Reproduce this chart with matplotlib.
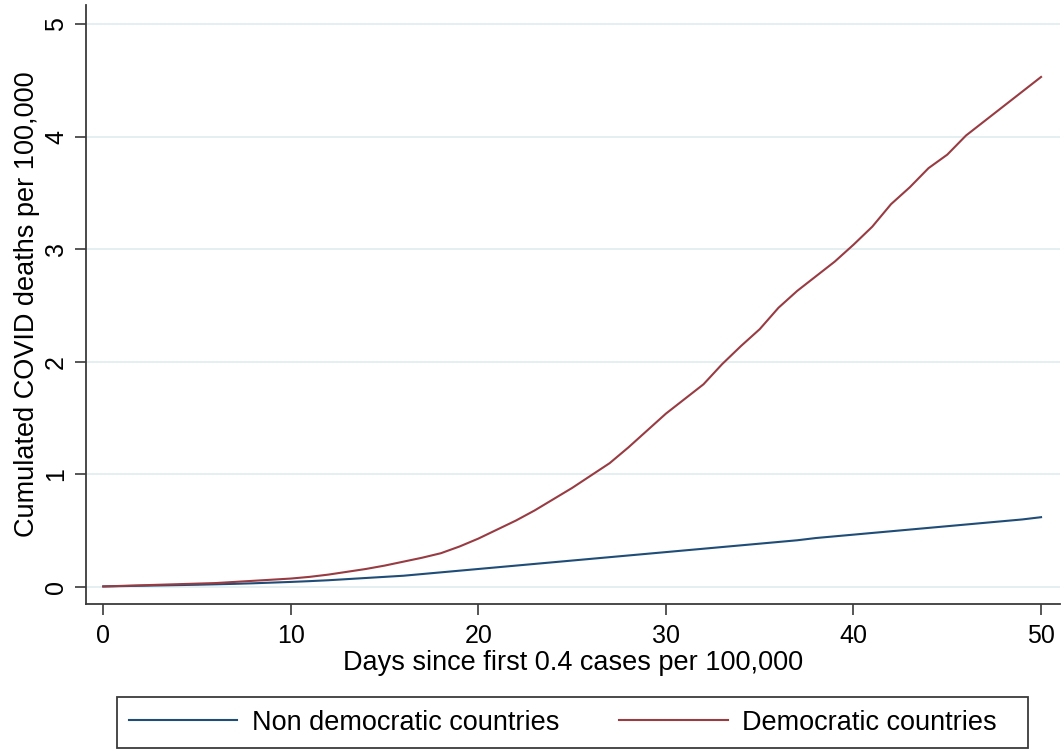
import matplotlib
matplotlib.use("Agg")
import matplotlib.pyplot as plt
from matplotlib.patches import Rectangle

plt.rcParams['font.family'] = ['Liberation Sans', 'DejaVu Sans']

# days since first 0.4 cases per 100,000
days = list(range(0, 51))

# cumulated deaths per 100,000
non_democratic = [0.005, 0.008, 0.011, 0.014, 0.017, 0.02, 0.024, 0.028, 0.033, 0.039,
                  0.045, 0.052, 0.06, 0.07, 0.08, 0.09, 0.10, 0.115, 0.13, 0.145,
                  0.16, 0.175, 0.19, 0.205, 0.22, 0.235, 0.25, 0.265, 0.28, 0.295,
                  0.31, 0.325, 0.34, 0.355, 0.37, 0.385, 0.40, 0.415, 0.435, 0.45,
                  0.465, 0.48, 0.495, 0.51, 0.525, 0.54, 0.555, 0.57, 0.585, 0.60,
                  0.62]
democratic = [0.005, 0.01, 0.015, 0.02, 0.025, 0.03, 0.035, 0.045, 0.055, 0.065,
              0.075, 0.09, 0.11, 0.135, 0.16, 0.19, 0.225, 0.26, 0.30, 0.36,
              0.43, 0.51, 0.59, 0.68, 0.78, 0.88, 0.99, 1.10, 1.24, 1.39,
              1.54, 1.67, 1.80, 1.98, 2.14, 2.29, 2.48, 2.63, 2.76, 2.89,
              3.04, 3.20, 3.40, 3.55, 3.72, 3.84, 4.01, 4.14, 4.27, 4.40,
              4.53]

labels = ["Non democratic countries", "Democratic countries"]
xticks = [0, 10, 20, 30, 40, 50]
yticks = [0, 1, 2, 3, 4, 5]

navy = "#1f4d77"
maroon = "#983b42"
spine_col = "#3a3a3a"

W, H = 1064, 749
fig = plt.figure(figsize=(W / 100, H / 100), dpi=100)
ax = fig.add_axes([86 / W, 145 / H, 974 / W, 599 / H])

ax.plot(days, non_democratic, color=navy, lw=1.5, label=labels[0])
ax.plot(days, democratic, color=maroon, lw=1.5, label=labels[1])

ax.set_xlim(-0.92, 51.01)
ax.set_ylim(-0.151, 5.169)
ax.set_xticks(xticks)
ax.set_yticks(yticks)
ax.grid(axis="y", color="#e0ebee", lw=1.2)
ax.set_axisbelow(True)

for s in ["top", "right"]:
    ax.spines[s].set_visible(False)
for s in ["left", "bottom"]:
    ax.spines[s].set_color(spine_col)
    ax.spines[s].set_linewidth(1.3)

ax.tick_params(axis="both", direction="out", length=8, width=1.2,
               color=spine_col, labelsize=18)
ax.tick_params(axis="x", pad=6.5)
ax.tick_params(axis="y", pad=5)
for t in ax.get_yticklabels():
    t.set_rotation(90)
    t.set_va("center")

ax.set_xlabel("Days since first 0.4 cases per 100,000", fontsize=19.5, labelpad=1)
ax.set_ylabel("Cumulated COVID deaths per 100,000", fontsize=19.5, labelpad=3)

# legend entries without frame, box drawn separately (Stata style)
leg = fig.legend(loc="center left", bbox_to_anchor=(129 / W, 1 - 722.5 / H),
                 ncol=2, fontsize=19.5, handlelength=4, handletextpad=0.55,
                 columnspacing=2.2, borderpad=0, borderaxespad=0, frameon=False)
fig.add_artist(Rectangle((117 / W, 1 / H), 911 / W, 51 / H, transform=fig.transFigure,
                         fill=False, edgecolor=spine_col, lw=1.3))

fig.savefig("out.png", dpi=100, facecolor="white")
